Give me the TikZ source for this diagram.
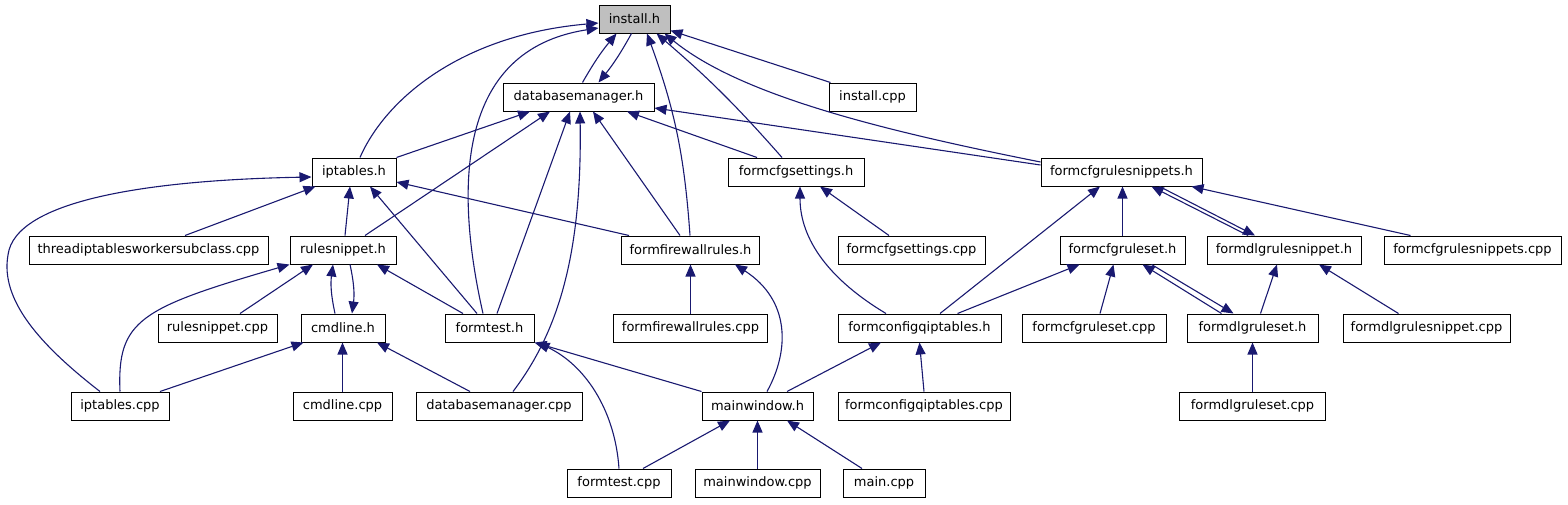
\documentclass[tikz,border=0pt]{standalone}
\usepackage{fontspec}
\setmainfont{DejaVu Sans}
\usetikzlibrary{arrows.meta}
\definecolor{edgeblue}{RGB}{25,25,112}
\definecolor{curgray}{RGB}{191,191,191}
\tikzset{
  file/.style={draw=black, line width=1pt, fill=white, minimum height=28pt, inner sep=0pt, font=\fontsize{13}{15}\selectfont},
  current/.style={file, fill=curgray},
  incl/.style={-{Triangle[length=12pt,width=10pt]}, edgeblue, line width=1.1pt}
}

\begin{document}
\begin{tikzpicture}[x=1pt,y=-1pt]
\useasboundingbox (0,0) rectangle (1568,504);
% row 1-2
\node[current, minimum width=71pt] (inst) at (634.5,19) {install.h};
\node[file, minimum width=151pt] (dbm) at (578.5,97) {databasemanager.h};
\node[file, minimum width=87pt] (instcpp) at (872.5,97) {install.cpp};
% row 3
\node[file, minimum width=84pt] (ipt) at (354,172) {iptables.h};
\node[file, minimum width=136pt] (fcs) at (796,172) {formcfgsettings.h};
\node[file, minimum width=161pt] (fcrs) at (1121.5,172) {formcfgrulesnippets.h};
% row 4
\node[file, minimum width=239pt] (thread) at (148.5,250) {threadiptablesworkersubclass.cpp};
\node[file, minimum width=106pt] (rs) at (343,250) {rulesnippet.h};
\node[file, minimum width=138pt] (ffr) at (690.5,250) {formfirewallrules.h};
\node[file, minimum width=147pt] (fcscpp) at (911.5,250) {formcfgsettings.cpp};
\node[file, minimum width=125pt] (fcrset) at (1122.5,250) {formcfgruleset.h};
\node[file, minimum width=154pt] (fdrs) at (1284,250) {formdlgrulesnippet.h};
\node[file, minimum width=177pt] (fcrscpp) at (1472.5,250) {formcfgrulesnippets.cpp};
% row 5
\node[file, minimum width=119pt] (rscpp) at (217.5,328) {rulesnippet.cpp};
\node[file, minimum width=84pt] (cmd) at (343,328) {cmdline.h};
\node[file, minimum width=89pt] (ft) at (489.5,328) {formtest.h};
\node[file, minimum width=154pt] (ffrcpp) at (690.5,328) {formfirewallrules.cpp};
\node[file, minimum width=163pt] (fcq) at (919.5,328) {formconfigqiptables.h};
\node[file, minimum width=144pt] (fcrsetcpp) at (1094,328) {formcfgruleset.cpp};
\node[file, minimum width=131pt] (fdrset) at (1252.5,328) {formdlgruleset.h};
\node[file, minimum width=167pt] (fdrscpp) at (1426.5,328) {formdlgrulesnippet.cpp};
% row 6
\node[file, minimum width=98pt] (iptcpp) at (120,406) {iptables.cpp};
\node[file, minimum width=99pt] (cmdcpp) at (342.5,406) {cmdline.cpp};
\node[file, minimum width=166pt] (dbmcpp) at (499,406) {databasemanager.cpp};
\node[file, minimum width=111pt] (mw) at (757.5,406) {mainwindow.h};
\node[file, minimum width=172pt] (fcqcpp) at (924,406) {formconfigqiptables.cpp};
\node[file, minimum width=146pt] (fdrsetcpp) at (1252.5,406) {formdlgruleset.cpp};
% row 7
\node[file, minimum width=104pt] (ftcpp) at (619,483) {formtest.cpp};
\node[file, minimum width=125pt] (mwcpp) at (757.5,483) {mainwindow.cpp};
\node[file, minimum width=82pt] (maincpp) at (884,483) {main.cpp};

% install.h
\draw[incl] ([xshift=4pt]dbm.north) to[bend left=5] ([xshift=-18pt]inst.south);
\draw[incl] ([xshift=-3pt]inst.south) to[bend left=5] ([xshift=20pt]dbm.north);
\draw[incl] ([xshift=6pt]ipt.north) .. controls (385,100) and (460,35) .. ([yshift=-4pt]inst.west);
\draw[incl] ([xshift=-6.5pt]ft.north) .. controls (455,190) and (455,50) .. ([yshift=-9pt]inst.west);
\draw[incl] ([xshift=-0.5pt]ffr.north) to[bend right=8] ([xshift=12.5pt]inst.south);
\draw[incl] ([xshift=-14pt]fcs.north) to[bend right=4] ([xshift=22pt]inst.south);
\draw[incl] ([yshift=10pt]fcrs.west) .. controls (880,130) and (740,95) .. ([xshift=30pt]inst.south);
\draw[incl] ([xshift=2pt]instcpp.north west) -- ([yshift=3pt]inst.south east);
% databasemanager.h
\draw[incl] (ipt.north east) -- ([xshift=-48.5pt]dbm.south);
\draw[incl] ([xshift=22pt]rs.north) -- ([xshift=-28.5pt]dbm.south);
\draw[incl] ([xshift=7.5pt]ft.north) -- ([xshift=-8.5pt]dbm.south);
\draw[incl] ([xshift=14pt]dbmcpp.north) .. controls (560,330) and (582,250) .. ([xshift=1.5pt]dbm.south);
\draw[incl] ([xshift=-10.5pt]ffr.north) -- ([xshift=14.5pt]dbm.south);
\draw[incl] ([xshift=-39pt]fcs.north) -- ([xshift=48.5pt]dbm.south);
\draw[incl] ([yshift=7pt]fcrs.west) -- ([yshift=-11pt]dbm.east);
% iptables.h
\draw[incl] ([xshift=36.5pt]thread.north) -- ([xshift=4pt]ipt.south west);
\draw[incl] ([xshift=2pt]rs.north) -- ([xshift=-4pt]ipt.south);
\draw[incl] ([xshift=-12.5pt]ft.north) -- ([xshift=16pt]ipt.south);
\draw[incl] ([xshift=8pt]ffr.north west) -- ([yshift=-10pt]ipt.east);
\draw[incl] ([xshift=-20pt]iptcpp.north) .. controls (40,345) and (0,300) .. (8,255)
  .. controls (15,200) and (150,180) .. ([yshift=-5pt]ipt.west);
% rulesnippet.h
\draw[incl] ([xshift=22.5pt]rscpp.north) -- ([xshift=-30pt]rs.south);
\draw[incl] (iptcpp.north) .. controls (117,320) and (140,308) .. (rs.south west);
\draw[incl] ([xshift=-8pt]cmd.north) to[bend left=10] ([xshift=-10pt]rs.south);
\draw[incl] ([xshift=7pt]rs.south) to[bend left=10] ([xshift=9pt]cmd.north);
\draw[incl] ([xshift=-26.5pt]ft.north) -- ([xshift=34pt]rs.south);
% cmdline.h
\draw[incl] ([xshift=40pt]iptcpp.north) -- ([xshift=3pt]cmd.south west);
\draw[incl] (cmdcpp.north) -- (cmdcpp.north |- cmd.south);
\draw[incl] ([xshift=-29pt]dbmcpp.north) -- ([xshift=34pt]cmd.south);
% formtest.h
\draw[incl] (mw.north west) -- (ft.south east);
\draw[incl] (ftcpp.north) .. controls (615,410) and (585,365) .. ([xshift=3pt]ft.south east);
% formfirewallrules.h
\draw[incl] (ffrcpp.north) -- (ffr.south);
\draw[incl] ([xshift=9.5pt]mw.north) .. controls (790,350) and (790,300) .. ([xshift=44.5pt]ffr.south);
% formcfgsettings.h
\draw[incl] ([xshift=-22.5pt]fcscpp.north) -- ([xshift=24pt]fcs.south);
\draw[incl] ([xshift=-33.5pt]fcq.north) .. controls (830,280) and (800,240) .. ([xshift=4pt]fcs.south);
% formcfgrulesnippets.h
\draw[incl] ([xshift=20.5pt]fcq.north) -- ([xshift=-21.5pt]fcrs.south);
\draw[incl] (fcrset.north) -- (fcrset.north |- fcrs.south);
\draw[incl] ([xshift=-36pt]fdrs.north) -- ([xshift=30pt]fcrs.south);
\draw[incl] ([xshift=38pt]fcrs.south) -- ([xshift=-29pt]fdrs.north);
\draw[incl] ([xshift=-62pt]fcrscpp.north) -- ([xshift=70pt]fcrs.south);
% formcfgruleset.h
\draw[incl] ([xshift=38pt]fcq.north) -- ([xshift=-43pt]fcrset.south);
\draw[incl] ([xshift=6pt]fcrsetcpp.north) -- ([xshift=-9pt]fcrset.south);
\draw[incl] ([xshift=-31pt]fdrset.north) -- ([xshift=20pt]fcrset.south);
\draw[incl] ([xshift=29pt]fcrset.south) -- ([xshift=-19pt]fdrset.north);
% formdlgrulesnippet.h, formdlgruleset.h
\draw[incl] ([xshift=8pt]fdrset.north) -- ([xshift=-7pt]fdrs.south);
\draw[incl] ([xshift=-28pt]fdrscpp.north) -- ([xshift=35pt]fdrs.south);
\draw[incl] (fdrsetcpp.north) -- (fdrsetcpp.north |- fdrset.south);
% formconfigqiptables.h
\draw[incl] ([xshift=29.5pt]mw.north) -- ([xshift=-38.5pt]fcq.south);
\draw[incl] (fcqcpp.north) -- (fcq.south);
% mainwindow.h
\draw[incl] ([xshift=24pt]ftcpp.north) -- ([xshift=-27.5pt]mw.south);
\draw[incl] (mwcpp.north) -- (mw.south);
\draw[incl] ([xshift=-22pt]maincpp.north) -- ([xshift=29.5pt]mw.south);
\end{tikzpicture}
\end{document}
